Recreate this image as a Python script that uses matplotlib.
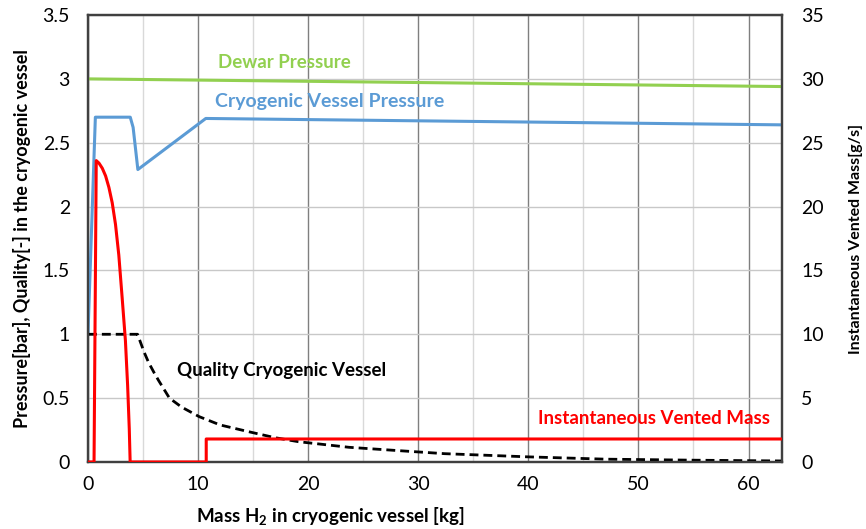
import matplotlib
matplotlib.use('Agg')
import matplotlib.pyplot as plt
from matplotlib.ticker import MultipleLocator

plt.rcParams['font.family'] = ['Lato', 'DejaVu Sans']
plt.rcParams['mathtext.fontset'] = 'custom'
plt.rcParams['mathtext.rm'] = 'Lato:bold'
plt.rcParams['mathtext.default'] = 'rm'

# mass of H2 left in the vessel [kg] vs. pressures [bar]
dewar_mass = [0, 63]
dewar_pressure = [3.0, 2.94]

vessel_mass = [0, 0.67, 3.84, 4.1, 4.53, 10.7, 63]
vessel_pressure = [1.0, 2.70, 2.70, 2.62, 2.29, 2.69, 2.64]

quality_mass = [0, 4.5, 4.8, 5.1, 5.5, 6.0, 6.4, 7.4, 8.5, 10.1, 12, 14.6,
                17, 19.1, 23.7, 28, 32.4, 40, 47, 55, 63]
quality = [1.0, 1.0, 0.93, 0.86, 0.78, 0.70, 0.64, 0.50, 0.43, 0.355, 0.29,
           0.237, 0.19, 0.159, 0.115, 0.09, 0.065, 0.04, 0.022, 0.014, 0.008]

# vented mass flow [g/s]
vent_mass = [0, 0.55, 0.75, 1.0, 1.3, 1.6, 1.9, 2.2, 2.5, 2.8, 3.1, 3.4,
             3.6, 3.75, 3.83, 10.74, 10.74, 63]
vent_flow = [0, 0, 23.6, 23.4, 23.0, 22.4, 21.5, 20.3, 18.6, 16.2, 12.9, 9.5,
             6.0, 2.6, 0, 0, 1.8, 1.8]

GREEN = '#92D050'
BLUE = '#5B9BD5'
RED = '#FF0000'
SPINE = '#404040'

fig = plt.figure(figsize=(8.66, 5.29), dpi=100)
ax = fig.add_axes([0.1016, 0.1267, 0.8009, 0.8449])
ax2 = ax.twinx()

ax.plot(dewar_mass, dewar_pressure, color=GREEN, lw=2.2, zorder=3)
ax.plot(vessel_mass, vessel_pressure, color=BLUE, lw=2.2, zorder=3)
ax.plot(quality_mass, quality, color='black', lw=2.0,
        linestyle=(0, (3.2, 1.8)), zorder=3)
ax2.plot(vent_mass, vent_flow, color=RED, lw=2.2, zorder=3)

ax.set_xlim(0, 63)
ax.set_ylim(0, 3.5)
ax2.set_ylim(0, 35)
ax.xaxis.set_major_locator(MultipleLocator(10))
ax.xaxis.set_minor_locator(MultipleLocator(5))
ax.yaxis.set_major_locator(MultipleLocator(0.5))
ax2.yaxis.set_major_locator(MultipleLocator(5))

ax.grid(True, which='major', axis='x', color='#7f7f7f', lw=1.0, zorder=0)
ax.grid(True, which='minor', axis='x', color='#d9d9d9', lw=1.0, zorder=0)
ax.grid(True, which='major', axis='y', color='#c8c8c8', lw=1.0, zorder=0)
ax.set_axisbelow(True)

ax.yaxis.set_major_formatter(plt.FuncFormatter(lambda v, p: f'{v:g}'))
ax.tick_params(which='both', length=0, labelsize=14, colors='black')
ax.tick_params(axis='y', pad=13)
ax.tick_params(axis='x', pad=10)
ax2.tick_params(length=0, labelsize=14, pad=14)

for a in (ax, ax2):
    for s in a.spines.values():
        s.set_color(SPINE)
        s.set_linewidth(1.6)

ax.set_ylabel('Pressure[bar], Quality[-] in the cryogenic vessel',
              fontsize=13, fontweight='bold', labelpad=8)
ax2.set_ylabel('Instantaneous Vented Mass[g/s]', fontsize=11.5,
               fontweight='bold', labelpad=18)
fig.text(0.382, 0.024, r'Mass H$_2$ in cryogenic vessel [kg]', fontsize=13.5,
         fontweight='bold', ha='center', va='center')

ax.text(11.8, 3.13, 'Dewar Pressure', color=GREEN, fontsize=13.5,
        fontweight='bold', va='center')
ax.text(11.5, 2.82, 'Cryogenic Vessel Pressure', color=BLUE, fontsize=14,
        fontweight='bold', va='center')
ax.text(8.1, 0.72, 'Quality Cryogenic Vessel', color='black', fontsize=13.5,
        fontweight='bold', va='center')
ax.text(40.9, 0.337, 'Instantaneous Vented Mass', color=RED, fontsize=13.5,
        fontweight='bold', va='center')

fig.savefig('out.png', dpi=100)
